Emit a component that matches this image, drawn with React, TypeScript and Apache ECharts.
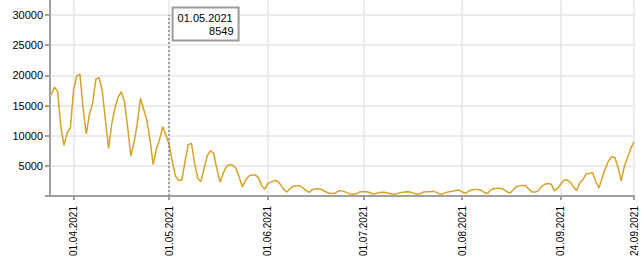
import { useEffect, useRef } from 'react';
import * as echarts from 'echarts';

// Daily values starting at startDate (one per day)
const startDate = '2021-03-25';
const values = [
  16800, 18050, 17300, 11500, 8400, 10500, 11300, 17600, 19900, 20200,
  14500, 10300, 13600, 15400, 19400, 19600, 17500, 12600, 7900, 12000,
  14600, 16400, 17300, 15600, 11400, 6600, 8900, 12000, 16200, 14400,
  12700, 9300, 5200, 7800, 9300, 11500, 10100, 8549, 5800, 3300,
  2550, 2650, 5700, 8500, 8750, 5500, 2900, 2400, 4600, 6700,
  7500, 7100, 4500, 2300, 3800, 4900, 5200, 5100, 4600, 3200,
  1500, 2600, 3300, 3500, 3500, 3100, 1800, 1100, 2100, 2300,
  2550, 2500, 1900, 1100, 650, 1250, 1600, 1700, 1700, 1350,
  900, 600, 1050, 1220, 1220, 1050, 750, 500, 420, 450,
  780, 890, 730, 520, 330, 290, 400, 720, 720, 720,
  580, 310, 420, 570, 610, 580, 440, 330, 310, 450,
  600, 680, 710, 620, 430, 300, 410, 680, 720, 720,
  770, 600, 320, 340, 600, 700, 800, 920, 1000, 700,
  450, 780, 1000, 1080, 1080, 950, 580, 420, 1000, 1200,
  1280, 1280, 1080, 750, 480, 950, 1520, 1680, 1760, 1750,
  1120, 650, 650, 850, 1600, 1950, 2070, 1950, 850, 1300,
  1950, 2600, 2650, 2300, 1500, 900, 2200, 2750, 3700, 3750,
  3880, 2400, 1350, 3000, 4600, 5800, 6500, 6400, 4700, 2500,
  5000, 6400, 7900, 9000,
];
const tickDates = ['2021-04-01', '2021-05-01', '2021-06-01', '2021-07-01', '2021-08-01', '2021-09-01', '2021-09-24'];
const yTickValues = [0, 5000, 10000, 15000, 20000, 25000, 30000];
const yLabelValues = [5000, 10000, 15000, 20000, 25000, 30000];
const yMax = 32500;
const markerDate = '2021-05-01';
const markerValue = 8549;

const DAY = 86400000;
function parseDate(s: string, add = 0): number {
  const [y, m, d] = s.split('-').map(Number);
  return new Date(y, m - 1, d + add).getTime();
}
function fmt(ts: number): string {
  const d = new Date(ts);
  const p = (n: number) => (n < 10 ? '0' + n : '' + n);
  return p(d.getDate()) + '.' + p(d.getMonth() + 1) + '.' + d.getFullYear();
}

const FONT = '"Liberation Sans", Arial, sans-serif';

export default function App() {
  const ref = useRef<HTMLDivElement>(null);
  useEffect(() => {
    if (!ref.current) return;
    const chart = echarts.init(ref.current, undefined, { renderer: 'svg' });
    const data = values.map((v, i) => [parseDate(startDate, i), v]);
    const markerTs = parseDate(markerDate);
    const tickTs = tickDates.map((s) => parseDate(s));
    chart.setOption({
      animation: false,
      backgroundColor: '#ffffff',
      grid: { left: 50, right: 7, top: 0, bottom: 71, outerBoundsMode: 'none', containLabel: false },
      xAxis: {
        type: 'value',
        min: parseDate(startDate) - 0.4 * DAY,
        max: parseDate(tickDates[tickDates.length - 1]),
        axisLine: { show: true, lineStyle: { color: '#a0a0a0', width: 2 } },
        axisTick: { show: true, length: 4, lineStyle: { color: '#a0a0a0', width: 2 }, customValues: tickTs },
        axisLabel: {
          show: true,
          customValues: tickTs,
          rotate: 90,
          margin: 10,
          fontSize: 10,
          fontFamily: FONT,
          color: '#000',
          formatter: (v: number) => fmt(v),
        },
        splitLine: { show: true, lineStyle: { color: '#e6e6e6', width: 1.5 } },
      },
      yAxis: {
        type: 'value',
        min: 0,
        max: yMax,
        axisLine: { show: true, lineStyle: { color: '#a0a0a0', width: 2 } },
        axisTick: { show: true, length: 5, lineStyle: { color: '#a0a0a0', width: 2 }, customValues: yTickValues },
        axisLabel: {
          show: true,
          customValues: yLabelValues,
          margin: 7,
          fontSize: 11,
          fontFamily: FONT,
          color: '#000',
          formatter: (v: number) => String(v),
        },
        splitLine: { show: true, lineStyle: { color: '#e6e6e6', width: 1.5 } },
      },
      series: [
        {
          type: 'line',
          data,
          showSymbol: false,
          symbol: 'none',
          lineStyle: { color: '#D6A328', width: 1.5 },
          itemStyle: { color: '#D6A328' },
          markLine: {
            silent: true,
            symbol: ['none', 'none'],
            label: { show: false },
            lineStyle: { color: '#888', width: 1.5, type: [2, 2] },
            data: [[{ coord: [markerTs, 0] }, { coord: [markerTs, yTickValues[yTickValues.length - 1]] }]],
          },
          markPoint: {
            silent: true,
            symbol: 'rect',
            symbolSize: 1,
            itemStyle: { color: 'transparent' },
            data: [
              {
                coord: [markerTs, yTickValues[yTickValues.length - 1]],
                label: {
                  show: true,
                  position: [5, -6],
                  backgroundColor: '#fff',
                  borderColor: '#9a9a9a',
                  borderWidth: 2,
                  padding: [3, 4, 2, 4],
                  formatter: `{a|${fmt(markerTs)}}\n{b|${markerValue}}`,
                  rich: {
                    a: { width: 56, align: 'left', fontSize: 11, lineHeight: 13, fontFamily: FONT, color: '#000' },
                    b: { width: 56, align: 'right', fontSize: 11, lineHeight: 13, fontFamily: FONT, color: '#000' },
                  },
                },
              },
            ],
          },
        },
      ],
    });
    return () => chart.dispose();
  }, []);
  return <div ref={ref} style={{ position: 'absolute', left: 0, top: 0, width: 641, height: 267 }} />;
}
